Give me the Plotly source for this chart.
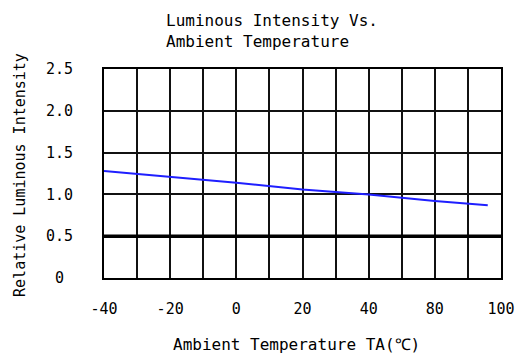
import plotly.graph_objects as go

# Data (x in axis-position units; the printed tick labels follow the original sheet)
temp_pos = [-40, -20, 0, 20, 40, 60, 76]
rel_intensity = [1.28, 1.21, 1.14, 1.06, 1.00, 0.92, 0.87]

x_tick_vals = [-40, -20, 0, 20, 40, 60, 80]
x_tick_text = ["-40", "-20", "0", "20", "40", "80", "100"]
y_tick_vals = [0, 0.5, 1.0, 1.5, 2.0, 2.5]
y_tick_text = ["0\u00a0", "0.5", "1.0", "1.5", "2.0", "2.5"]
ref_level = 0.5

FONT = "DejaVu Sans Mono"

fig = go.Figure()
fig.add_trace(go.Scatter(x=temp_pos, y=rel_intensity, mode="lines",
                         line=dict(color="#1f1fff", width=2), showlegend=False,
                         hoverinfo="skip"))

fig.add_shape(type="line", xref="paper", x0=0, x1=1, yref="y", y0=ref_level, y1=ref_level,
              line=dict(color="black", width=3.5), layer="above")

fig.update_layout(
    width=521, height=358,
    margin=dict(l=104, r=20, t=69, b=80, autoexpand=False),
    paper_bgcolor="white", plot_bgcolor="white",
    font=dict(family=FONT, size=14, color="black"),
    xaxis=dict(range=[-40, 80], tickvals=x_tick_vals, ticktext=x_tick_text,
               showgrid=True, gridcolor="#111", gridwidth=1.8,
               minor=dict(dtick=10, showgrid=True, gridcolor="#111", gridwidth=1.8),
               showline=True, linecolor="black", linewidth=2, mirror=True,
               ticks="", ticklabelstandoff=16, automargin=False,
               tickfont=dict(family=FONT, size=15), zeroline=False),
    yaxis=dict(range=[0, 2.5], tickvals=y_tick_vals, ticktext=y_tick_text,
               showgrid=True, gridcolor="#111", gridwidth=1.8,
               showline=True, linecolor="black", linewidth=2, mirror=True,
               ticks="", ticklabelstandoff=26, automargin=False,
               tickfont=dict(family=FONT, size=15), zeroline=False),
    annotations=[
        dict(text="Luminous Intensity Vs.<br>Ambient Temperature", xref="paper", yref="paper",
             x=0.152, y=1.182, xanchor="left", yanchor="middle", align="left",
             showarrow=False, font=dict(family=FONT, size=16)),
        dict(text="Relative Luminous Intensity", xref="paper", yref="paper",
             x=-0.2116, y=0.493, xanchor="center", yanchor="middle", textangle=-90,
             showarrow=False, font=dict(family=FONT, size=15)),
        dict(text="Ambient Temperature TA(℃)", xref="paper", yref="paper",
             x=0.484, y=-0.32, xanchor="center", yanchor="middle",
             showarrow=False, font=dict(family=FONT, size=16)),
    ],
)

fig.write_html("out.html", config={"displayModeBar": False},
               post_script="document.body.style.margin='0';")
